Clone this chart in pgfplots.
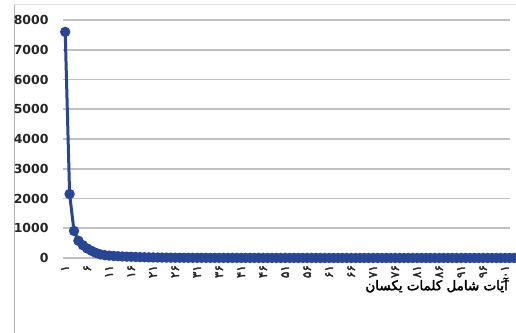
\documentclass[border=0pt]{standalone}
\usepackage{pgfplots}
\pgfplotsset{compat=1.18}
\usepackage{fontspec}
\setmainfont{DejaVu Sans}
\newfontfamily\yfont{DejaVu Sans Bold}
\newfontfamily\arabicfont[Script=Arabic, FakeBold=2.5]{DejaVu Sans}
\TeXXeTstate=1
\definecolor{lineblue}{RGB}{40,70,145}
\definecolor{gridgray}{RGB}{192,192,192}
\begin{document}
\begin{tikzpicture}
\fill[white] (0,0) rectangle (516bp,333bp);
\useasboundingbox (0,0) rectangle (516bp,333bp);
\draw[color=black!30, line width=1bp] (14bp,0) -- (14bp,328bp);
\draw[color=black!12, line width=1bp] (14bp,328bp) -- (516bp,328bp);
\begin{axis}[
  scale only axis,
  at={(63bp,75bp)}, anchor=south west,
  width=447bp, height=238bp,
  xmin=0.5, xmax=102.1,
  ymin=0, ymax=8000,
  clip=false,
  axis line style={draw=none},
  tick style={draw=none},
  ymajorgrids,
  major grid style={line width=1.6bp, color=gridgray},
  ytick={0,1000,...,8000},
  /pgf/number format/assume math mode=true,
  /pgf/number format/set thousands separator={},
  yticklabel style={font=\yfont\fontsize{12.5}{14}\selectfont, color=black!85, xshift=-11bp},
  xtick={1,6,...,101},
  xticklabels={۱,۶,۱۱,۱۶,۲۱,۲۶,۳۱,۳۶,۴۱,۴۶,۵۱,۵۶,۶۱,۶۶,۷۱,۷۶,۸۱,۸۶,۹۱,۹۶,۱۰۱},
  xticklabel style={font=\arabicfont\fontsize{12}{13}\selectfont, rotate=90, anchor=east, inner sep=1bp, color=black!85, xshift=-6bp},
]
\addplot[color=lineblue, line width=3bp, mark=*, mark size=3.6bp, mark options={fill=lineblue, draw=lineblue}]
coordinates {
(1,7600)(2,2150)(3,910)(4,580)(5,430)(6,320)(7,240)(8,170)(9,120)(10,95)
(11,80)(12,70)(13,60)(14,52)(15,45)(16,40)(17,35)(18,30)(19,26)(20,22)
(21,19)(22,16)(23,14)(24,12)(25,10)(26,9)(27,8)(28,7)(29,6)(30,6)
(31,5)(32,5)(33,5)(34,4)(35,4)(36,4)(37,4)(38,3)(39,3)(40,3)
(41,3)(42,3)(43,3)(44,2)(45,2)(46,2)(47,2)(48,2)(49,2)(50,2)
(51,2)(52,2)(53,2)(54,2)(55,2)(56,2)(57,2)(58,2)(59,2)(60,1)
(61,1)(62,1)(63,1)(64,1)(65,1)(66,1)(67,1)(68,1)(69,1)(70,1)
(71,1)(72,1)(73,1)(74,1)(75,1)(76,1)(77,1)(78,1)(79,1)(80,1)
(81,1)(82,1)(83,1)(84,1)(85,1)(86,1)(87,1)(88,1)(89,1)(90,1)
(91,1)(92,1)(93,1)(94,1)(95,1)(96,1)(97,1)(98,1)(99,1)(100,1)
(101,1)(102,1)(103,1)
};
\end{axis}
\node[anchor=east, inner sep=0pt, font=\arabicfont\fontsize{13.5}{14}\selectfont] at (508bp,48bp) {\beginR آیات شامل کلمات یکسان\endR};
\end{tikzpicture}
\end{document}
